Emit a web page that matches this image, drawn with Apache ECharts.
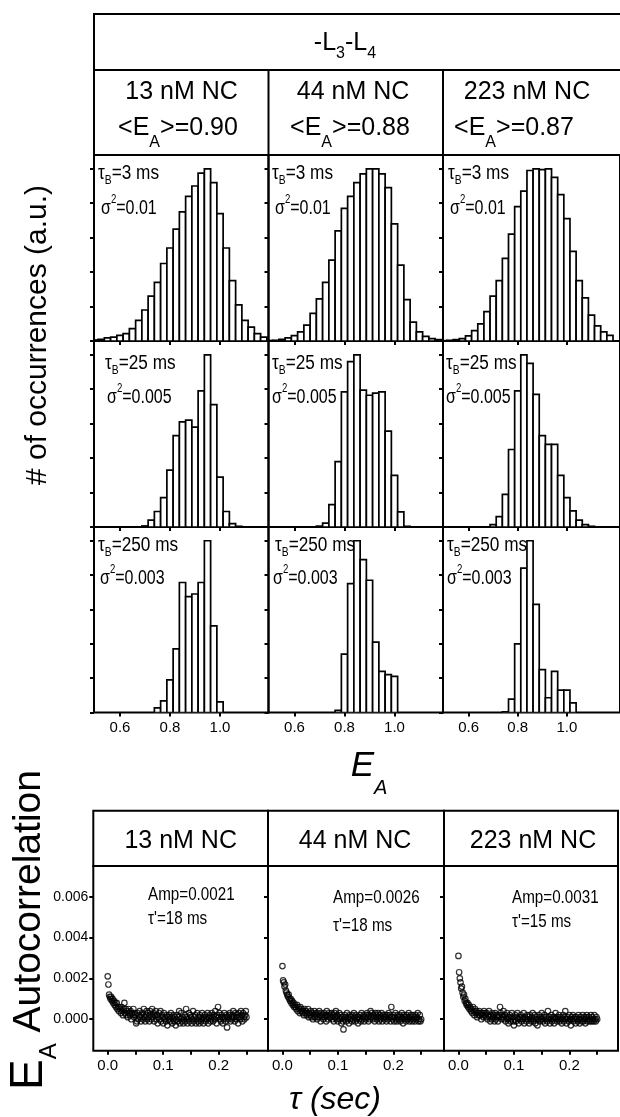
<!DOCTYPE html>
<html><head><meta charset="utf-8">
<script src="https://cdn.jsdelivr.net/npm/echarts@6/dist/echarts.min.js"></script>
<style>html,body{margin:0;padding:0;background:#fff}#c{width:620px;height:1117px}</style>
</head><body><div id="c"></div>
<script>
// ---------------- DATA ----------------
const concentrations = ['13 nM NC', '44 nM NC', '223 nM NC'];
const meanEA = ['0.90', '0.88', '0.87'];
const binTimes = ['3', '25', '250'];
const histVariances = ['0.01', '0.005', '0.003'];
const acfAmps = ['0.0021', '0.0026', '0.0031'];
const acfTauPrime = ['18', '18', '15'];

const histTickValues = [0.6, 0.8, 1.0];
const histYTickValues = [0, 0.2, 0.4, 0.6, 0.8, 1.0];
const acfXTickValues = [0, 0.05, 0.1, 0.15, 0.2, 0.25];
const acfXLabelValues = [0, 0.1, 0.2];
const acfYTickValues = [0, 0.002, 0.004, 0.006];

const histBinWidth = 0.025;
const histBinCenters = [0.5,0.525,0.55,0.575,0.6,0.625,0.65,0.675,0.7,0.725,0.75,0.775,0.8,0.825,0.85,0.875,0.9,0.925,0.95,0.975,1.0,1.025,1.05,1.075,1.1,1.125,1.15,1.175];

const hist_3ms_13nM  = [0.006,0.01,0.018,0.023,0.033,0.043,0.072,0.12,0.18,0.26,0.34,0.45,0.54,0.65,0.75,0.84,0.90,0.975,1.0,0.92,0.74,0.54,0.35,0.21,0.12,0.08,0.043,0.023];
const hist_3ms_44nM  = [0.003,0.004,0.01,0.018,0.031,0.053,0.092,0.16,0.245,0.34,0.47,0.64,0.77,0.84,0.92,0.97,1.0,1.0,0.97,0.89,0.68,0.44,0.24,0.11,0.053,0.027,0.014,0.008];
const hist_3ms_223nM = [0.002,0.004,0.008,0.014,0.03,0.06,0.1,0.17,0.26,0.35,0.48,0.62,0.78,0.87,0.99,1.0,0.995,1.0,0.95,0.85,0.71,0.52,0.35,0.25,0.15,0.088,0.053,0.033];

const hist_25ms_13nM  = [0,0,0,0,0,0,0,0,0.006,0.04,0.09,0.17,0.33,0.53,0.61,0.62,0.58,0.79,1.0,0.71,0.29,0.09,0.02,0.004,0,0,0,0];
const hist_25ms_44nM  = [0,0,0,0,0,0,0,0,0.005,0.023,0.13,0.38,0.785,0.96,1.0,0.795,0.765,0.777,0.785,0.557,0.30,0.088,0.004,0,0,0,0,0];
const hist_25ms_223nM = [0,0,0,0,0,0,0,0,0.014,0.06,0.19,0.45,0.79,1.0,0.95,0.77,0.53,0.48,0.48,0.30,0.17,0.094,0.04,0.014,0.004,0,0,0];

const hist_250ms_13nM  = [0,0,0,0,0,0,0,0,0,0,0.027,0.068,0.19,0.37,0.757,0.675,0.69,0.757,1.0,0.504,0.062,0,0,0,0,0,0,0];
const hist_250ms_44nM  = [0,0,0,0,0,0,0,0,0,0,0,0.012,0.34,0.75,1.0,0.89,0.77,0.41,0.24,0.22,0.21,0,0,0,0,0,0,0];
const hist_250ms_223nM = [0,0,0,0,0,0,0,0,0,0,0.004,0.078,0.40,0.84,1.0,0.63,0.25,0.086,0.24,0.13,0.13,0.056,0,0,0,0,0,0];

const acfTau = [
0,0.00125,0.0025,0.00375,0.005,0.00625,0.0075,0.00875,0.01,0.01125,
0.0125,0.01375,0.015,0.01625,0.0175,0.01875,0.02,0.02125,0.0225,0.02375,
0.025,0.02625,0.0275,0.02875,0.03,0.03125,0.0325,0.03375,0.035,0.03625,
0.0375,0.03875,0.04,0.04125,0.0425,0.04375,0.045,0.04625,0.0475,0.04875,
0.05,0.05125,0.0525,0.05375,0.055,0.05625,0.0575,0.05875,0.06,0.06125,
0.0625,0.06375,0.065,0.06625,0.0675,0.06875,0.07,0.07125,0.0725,0.07375,
0.075,0.07625,0.0775,0.07875,0.08,0.08125,0.0825,0.08375,0.085,0.08625,
0.0875,0.08875,0.09,0.09125,0.0925,0.09375,0.095,0.09625,0.0975,0.09875,
0.1,0.10125,0.1025,0.10375,0.105,0.10625,0.1075,0.10875,0.11,0.11125,
0.1125,0.11375,0.115,0.11625,0.1175,0.11875,0.12,0.12125,0.1225,0.12375,
0.125,0.12625,0.1275,0.12875,0.13,0.13125,0.1325,0.13375,0.135,0.13625,
0.1375,0.13875,0.14,0.14125,0.1425,0.14375,0.145,0.14625,0.1475,0.14875,
0.15,0.15125,0.1525,0.15375,0.155,0.15625,0.1575,0.15875,0.16,0.16125,
0.1625,0.16375,0.165,0.16625,0.1675,0.16875,0.17,0.17125,0.1725,0.17375,
0.175,0.17625,0.1775,0.17875,0.18,0.18125,0.1825,0.18375,0.185,0.18625,
0.1875,0.18875,0.19,0.19125,0.1925,0.19375,0.195,0.19625,0.1975,0.19875,
0.2,0.20125,0.2025,0.20375,0.205,0.20625,0.2075,0.20875,0.21,0.21125,
0.2125,0.21375,0.215,0.21625,0.2175,0.21875,0.22,0.22125,0.2225,0.22375,
0.225,0.22625,0.2275,0.22875,0.23,0.23125,0.2325,0.23375,0.235,0.23625,
0.2375,0.23875,0.24,0.24125,0.2425,0.24375,0.245,0.24625,0.2475,0.24875,
0.25];

const acf_13nM = [
21e-4,17e-4,12e-4,11e-4,10e-4,11e-4,9e-4,10e-4,8e-4,9e-4,
7e-4,8e-4,6e-4,8e-4,5e-4,6e-4,4e-4,6e-4,5e-4,3e-4,
6e-4,4e-4,2e-4,5e-4,8e-4,3e-4,5e-4,2e-4,4e-4,1e-4,
5e-4,3e-4,2e-4,4e-4,0,3e-4,2e-4,5e-4,1e-4,3e-4,
2e-4,-2e-4,-1e-4,3e-4,0,2e-4,4e-4,1e-4,-1e-4,2e-4,
3e-4,0,5e-4,1e-4,-1e-4,2e-4,4e-4,0,3e-4,1e-4,
-1e-4,4e-4,2e-4,0,5e-4,1e-4,3e-4,-1e-4,2e-4,4e-4,
0,2e-4,-2e-4,1e-4,3e-4,0,4e-4,-1e-4,2e-4,1e-4,
-2e-4,3e-4,0,1e-4,-1e-4,2e-4,-3e-4,1e-4,0,2e-4,
-1e-4,3e-4,1e-4,-2e-4,0,2e-4,-1e-4,1e-4,-3e-4,0,
2e-4,-1e-4,1e-4,4e-4,-2e-4,0,3e-4,-1e-4,1e-4,-2e-4,
0,2e-4,-1e-4,5e-4,1e-4,-2e-4,0,3e-4,-1e-4,2e-4,
1e-4,-2e-4,0,4e-4,-1e-4,1e-4,2e-4,-2e-4,0,3e-4,
-1e-4,1e-4,-2e-4,2e-4,0,-1e-4,3e-4,1e-4,-2e-4,0,
2e-4,-1e-4,1e-4,0,3e-4,-2e-4,1e-4,2e-4,-1e-4,0,
3e-4,1e-4,-1e-4,2e-4,0,4e-4,1e-4,-2e-4,2e-4,6e-4,
1e-4,3e-4,0,-1e-4,2e-4,1e-4,-2e-4,0,3e-4,1e-4,
-1e-4,2e-4,-4e-4,1e-4,0,2e-4,3e-4,-1e-4,1e-4,0,
2e-4,4e-4,1e-4,-1e-4,3e-4,0,2e-4,1e-4,-2e-4,3e-4,
1e-4,0,4e-4,2e-4,-1e-4,3e-4,1e-4,0,2e-4,4e-4,
1e-4];

const acf_44nM = [
26e-4,19e-4,18e-4,16e-4,17e-4,14e-4,13e-4,12e-4,11e-4,12e-4,
10e-4,9e-4,10e-4,8e-4,9e-4,7e-4,8e-4,6e-4,7e-4,6e-4,
5e-4,7e-4,4e-4,6e-4,5e-4,3e-4,6e-4,4e-4,5e-4,3e-4,
4e-4,2e-4,5e-4,3e-4,4e-4,2e-4,3e-4,5e-4,1e-4,3e-4,
2e-4,4e-4,1e-4,3e-4,0,2e-4,4e-4,1e-4,3e-4,2e-4,
0,3e-4,1e-4,4e-4,2e-4,-1e-4,3e-4,1e-4,2e-4,0,
3e-4,1e-4,2e-4,-1e-4,4e-4,2e-4,0,3e-4,1e-4,2e-4,
1e-4,3e-4,0,2e-4,-1e-4,3e-4,1e-4,4e-4,0,2e-4,
-1e-4,1e-4,3e-4,0,2e-4,-2e-4,1e-4,-1e-4,-5e-4,0,
2e-4,1e-4,-1e-4,3e-4,0,1e-4,-2e-4,2e-4,0,1e-4,
-1e-4,2e-4,0,3e-4,1e-4,-1e-4,2e-4,0,1e-4,-2e-4,
1e-4,0,2e-4,-1e-4,3e-4,0,1e-4,2e-4,-1e-4,1e-4,
0,2e-4,3e-4,1e-4,-1e-4,2e-4,0,4e-4,1e-4,3e-4,
0,2e-4,1e-4,-1e-4,3e-4,2e-4,0,1e-4,3e-4,-1e-4,
2e-4,0,1e-4,3e-4,-1e-4,2e-4,1e-4,0,2e-4,1e-4,
-1e-4,2e-4,0,3e-4,1e-4,2e-4,-1e-4,6e-4,1e-4,0,
2e-4,-1e-4,1e-4,3e-4,0,-1e-4,2e-4,1e-4,0,2e-4,
-1e-4,1e-4,3e-4,0,-2e-4,2e-4,1e-4,0,-1e-4,2e-4,
1e-4,0,3e-4,-1e-4,1e-4,2e-4,0,-1e-4,2e-4,0,
1e-4,-1e-4,2e-4,0,1e-4,3e-4,-1e-4,0,2e-4,-1e-4,
0];

const acf_223nM = [
31e-4,23e-4,20e-4,18e-4,15e-4,16e-4,13e-4,11e-4,12e-4,9e-4,
10e-4,8e-4,7e-4,8e-4,6e-4,7e-4,5e-4,6e-4,4e-4,5e-4,
3e-4,6e-4,4e-4,2e-4,5e-4,3e-4,4e-4,1e-4,3e-4,2e-4,
4e-4,2e-4,3e-4,0,2e-4,3e-4,1e-4,4e-4,2e-4,3e-4,
1e-4,3e-4,0,2e-4,4e-4,1e-4,-1e-4,2e-4,0,3e-4,
1e-4,2e-4,-1e-4,3e-4,0,2e-4,1e-4,-1e-4,2e-4,1e-4,
6e-4,3e-4,0,2e-4,1e-4,4e-4,0,2e-4,-1e-4,1e-4,
3e-4,0,-2e-4,1e-4,2e-4,-1e-4,0,3e-4,1e-4,-1e-4,
-3e-4,0,2e-4,-1e-4,1e-4,3e-4,0,-2e-4,1e-4,0,
2e-4,-1e-4,1e-4,0,3e-4,-2e-4,1e-4,0,-1e-4,2e-4,
0,1e-4,-2e-4,2e-4,0,-1e-4,1e-4,3e-4,-1e-4,0,
2e-4,-2e-4,0,1e-4,-3e-4,0,2e-4,-1e-4,1e-4,0,
3e-4,0,-1e-4,1e-4,2e-4,-2e-4,0,1e-4,-1e-4,4e-4,
0,1e-4,-2e-4,0,2e-4,-1e-4,1e-4,0,-2e-4,1e-4,
3e-4,0,-1e-4,1e-4,0,2e-4,-1e-4,0,1e-4,-2e-4,
0,2e-4,-1e-4,1e-4,4e-4,0,-2e-4,1e-4,0,-1e-4,
2e-4,0,-3e-4,1e-4,0,2e-4,-1e-4,0,1e-4,-2e-4,
1e-4,0,-1e-4,2e-4,0,-2e-4,1e-4,0,-1e-4,2e-4,
-1e-4,1e-4,0,-2e-4,1e-4,2e-4,-1e-4,0,1e-4,-1e-4,
0,2e-4,-1e-4,1e-4,0,-1e-4,2e-4,0,-1e-4,1e-4,
0];

// ---------------- LAYOUT ----------------
const SANS = '"Liberation Sans",Arial,Helvetica,sans-serif';

const histPanels = [
  [hist_3ms_13nM, hist_3ms_44nM, hist_3ms_223nM],
  [hist_25ms_13nM, hist_25ms_44nM, hist_25ms_223nM],
  [hist_250ms_13nM, hist_250ms_44nM, hist_250ms_223nM]
];
const acfPanels = [acf_13nM, acf_44nM, acf_223nM];

const histLefts = [94, 268.5, 443];
const histWidths = [174.5, 174.5, 180];
const histTops = [155, 341, 527];
const histHeights = [186, 186, 185.5];
const histXMin = 0.496, histPxPerUnit = 250, histYMax = 1.08;

const acfLefts = [93.3, 268, 444];
const acfWidths = [174.7, 176, 174];
const acfTop = 866, acfHeight = 184.7;
const acfXMin = -0.026, acfPxPerUnit = 555, acfYMin = -0.00154, acfYMax = 0.0075;

const grids = [], xAxes = [], yAxes = [], series = [];
const tickStyle = {color: '#000', width: 2};

function histRender(params, api) {
  const c = api.value(0), h = api.value(1);
  if (!h) return null;
  const p0 = api.coord([c - histBinWidth / 2, 0]);
  const p1 = api.coord([c + histBinWidth / 2, h]);
  return {
    type: 'rect',
    shape: {x: p0[0], y: p1[1], width: p1[0] - p0[0], height: p0[1] - p1[1]},
    style: {fill: '#fff', stroke: '#000', lineWidth: 1.7}
  };
}

for (let r = 0; r < 3; r++) {
  for (let c = 0; c < 3; c++) {
    const gi = grids.length;
    grids.push({left: histLefts[c], top: histTops[r], width: histWidths[c], height: histHeights[r],
      show: true, borderColor: '#000', borderWidth: 2, backgroundColor: 'transparent', containLabel: false});
    xAxes.push({type: 'value', gridIndex: gi, min: histXMin, max: histXMin + histWidths[c] / histPxPerUnit,
      axisLine: {show: false, onZero: false}, splitLine: {show: false},
      axisTick: {show: true, inside: false, length: 4, lineStyle: tickStyle, customValues: histTickValues},
      axisLabel: {show: r === 2, customValues: histTickValues, formatter: v => v.toFixed(1), margin: 8,
        fontSize: 15, fontFamily: SANS, color: '#000'}});
    yAxes.push({type: 'value', gridIndex: gi, min: 0, max: histYMax,
      axisLine: {show: false, onZero: false}, splitLine: {show: false}, axisLabel: {show: false},
      axisTick: {show: true, inside: false, length: 4, lineStyle: tickStyle, customValues: histYTickValues}});
    const arr = histPanels[r][c];
    series.push({type: 'custom', xAxisIndex: gi, yAxisIndex: gi, clip: true, silent: true,
      renderItem: histRender, data: histBinCenters.map((x, i) => [x, arr[i]])});
  }
}

for (let c = 0; c < 3; c++) {
  const gi = grids.length;
  grids.push({left: acfLefts[c], top: acfTop, width: acfWidths[c], height: acfHeight,
    show: true, borderColor: '#000', borderWidth: 2, backgroundColor: 'transparent'});
  xAxes.push({type: 'value', gridIndex: gi, min: acfXMin, max: acfXMin + acfWidths[c] / acfPxPerUnit,
    axisLine: {show: false, onZero: false}, splitLine: {show: false},
    axisTick: {show: true, inside: false, length: 4, lineStyle: tickStyle, customValues: acfXTickValues},
    axisLabel: {show: true, customValues: acfXLabelValues, formatter: v => v.toFixed(1), margin: 8,
      fontSize: 15, fontFamily: SANS, color: '#000'}});
  yAxes.push({type: 'value', gridIndex: gi, min: acfYMin, max: acfYMax,
    axisLine: {show: false, onZero: false}, splitLine: {show: false},
    axisTick: {show: true, inside: false, length: 4, lineStyle: tickStyle, customValues: acfYTickValues},
    axisLabel: {show: c === 0, customValues: acfYTickValues, formatter: v => v.toFixed(3), margin: 5,
      fontSize: 14, fontFamily: SANS, color: '#000'}});
  series.push({type: 'scatter', xAxisIndex: gi, yAxisIndex: gi, silent: true, symbol: 'circle', symbolSize: 5.5,
    itemStyle: {color: 'rgba(0,0,0,0)', borderColor: '#000', borderWidth: 1.2},
    data: acfTau.map((t, i) => [t, acfPanels[c][i]])});
}

// ---------------- TEXT / FRAMES ----------------
const graphics = [];
function line(x1, y1, x2, y2) {
  graphics.push({type: 'line', z: 50, silent: true, shape: {x1, y1, x2, y2}, style: {stroke: '#000', lineWidth: 2}});
}
function rect(x, y, w, h) {
  graphics.push({type: 'rect', z: 50, silent: true, shape: {x, y, width: w, height: h}, style: {fill: 'none', stroke: '#000', lineWidth: 2}});
}
function text(x, y, str, rich, opts) {
  opts = opts || {};
  graphics.push({type: 'text', z: 100, silent: true, x, y, rotation: opts.rotation || 0,
    scaleX: opts.scaleX || 1, scaleY: opts.scaleY || 1,
    style: Object.assign({text: str, rich: rich, fill: '#000', textAlign: opts.align || 'left', verticalAlign: 'middle'}, opts.style || {})});
}

// top header frame
rect(94, 14, 540, 141);
line(94, 70, 634, 70);
line(histLefts[1], 70, histLefts[1], 155);
line(histLefts[2], 70, histLefts[2], 155);

const headRich = {
  m: {fontSize: 25, fontFamily: SANS, lineHeight: 30, verticalAlign: 'middle'},
  s: {fontSize: 16, fontFamily: SANS, padding: [21, 0, 0, 0], verticalAlign: 'middle'},
  a: {fontSize: 16, fontFamily: SANS, padding: [30, 0, 0, 0], verticalAlign: 'middle'}
};
text(345, 43, '{m|-L}{s|3}{m|-L}{s|4}', headRich, {align: 'center'});
const nmCenters = [181.5, 353, 527];
const eaCenters = [178, 350, 514];
for (let c = 0; c < 3; c++) {
  text(nmCenters[c], 92, '{m|' + concentrations[c] + '}', headRich, {align: 'center'});
  text(eaCenters[c], 128, '{m|<E}{a|A}{m|>=' + meanEA[c] + '}', headRich, {align: 'center'});
}

// histogram annotations (condensed look via horizontal scale)
const annRich = {
  m: {fontSize: 20, fontFamily: SANS, lineHeight: 24, verticalAlign: 'middle'},
  s: {fontSize: 12, fontFamily: SANS, padding: [16, 0, 0, 0], verticalAlign: 'middle'},
  p: {fontSize: 12, fontFamily: SANS, padding: [0, 0, 16, 0], verticalAlign: 'middle'}
};
const annTauX = [[98, 272, 448], [105, 272, 446], [98, 275, 447]];
const annSigX = [[101, 275, 450], [107, 272, 446], [100, 273, 447]];
const annTauY = [173, 363, 545];
const annSigY = [208, 397, 578];
for (let r = 0; r < 3; r++) {
  for (let c = 0; c < 3; c++) {
    text(annTauX[r][c], annTauY[r], '{m|τ}{s|B}{m|=' + binTimes[r] + ' ms}', annRich, {scaleX: 0.86});
    text(annSigX[r][c], annSigY[r], '{m|σ}{p|2}{m|=' + histVariances[r] + '}', annRich, {scaleX: 0.8});
  }
}

// left titles
text(38, 335, '# of occurrences (a.u.)', null, {align: 'center', rotation: Math.PI / 2,
  style: {fontSize: 30, fontFamily: SANS}});
text(369, 766, '{e|E}{s|A}', {
  e: {fontSize: 35, fontFamily: SANS, fontStyle: 'italic', lineHeight: 40, verticalAlign: 'middle'},
  s: {fontSize: 20, fontFamily: SANS, fontStyle: 'italic', padding: [44, 0, 0, 0], verticalAlign: 'middle'}
}, {align: 'center'});

text(29, 930, '{e|E}{s|A}{m| Autocorrelation}', {
  e: {fontSize: 46, fontFamily: SANS, lineHeight: 50, verticalAlign: 'middle'},
  s: {fontSize: 24, fontFamily: SANS, padding: [40, 0, 0, 0], verticalAlign: 'middle'},
  m: {fontSize: 39, fontFamily: SANS, lineHeight: 50, verticalAlign: 'middle'}
}, {align: 'center', rotation: Math.PI / 2});

// autocorrelation headers
const acfHeadCenters = [180.7, 355, 533];
for (let c = 0; c < 3; c++) {
  rect(acfLefts[c], 810.7, acfWidths[c], acfTop - 810.7);
  text(acfHeadCenters[c], 841, '{m|' + concentrations[c] + '}', headRich, {align: 'center'});
}
const ampX = [148, 333, 512], ampY = [895, 898, 898], tpY = [919, 926, 922];
const acfRich = {
  m: {fontSize: 19, fontFamily: SANS, lineHeight: 22, verticalAlign: 'middle'}
};
for (let c = 0; c < 3; c++) {
  text(ampX[c], ampY[c], '{m|Amp=' + acfAmps[c] + '}', acfRich, {scaleX: 0.8});
  text(ampX[c], tpY[c], "{m|τ'=" + acfTauPrime[c] + ' ms}', acfRich, {scaleX: 0.8});
}
text(335, 1100, 'τ (sec)', null, {align: 'center', style: {fontSize: 32, fontFamily: SANS, fontStyle: 'italic'}});

const chart = echarts.init(document.getElementById('c'), null, {renderer: 'canvas'});
chart.setOption({
  animation: false,
  backgroundColor: '#fff',
  grid: grids, xAxis: xAxes, yAxis: yAxes, series: series,
  graphic: {elements: graphics}
});
</script></body></html>
